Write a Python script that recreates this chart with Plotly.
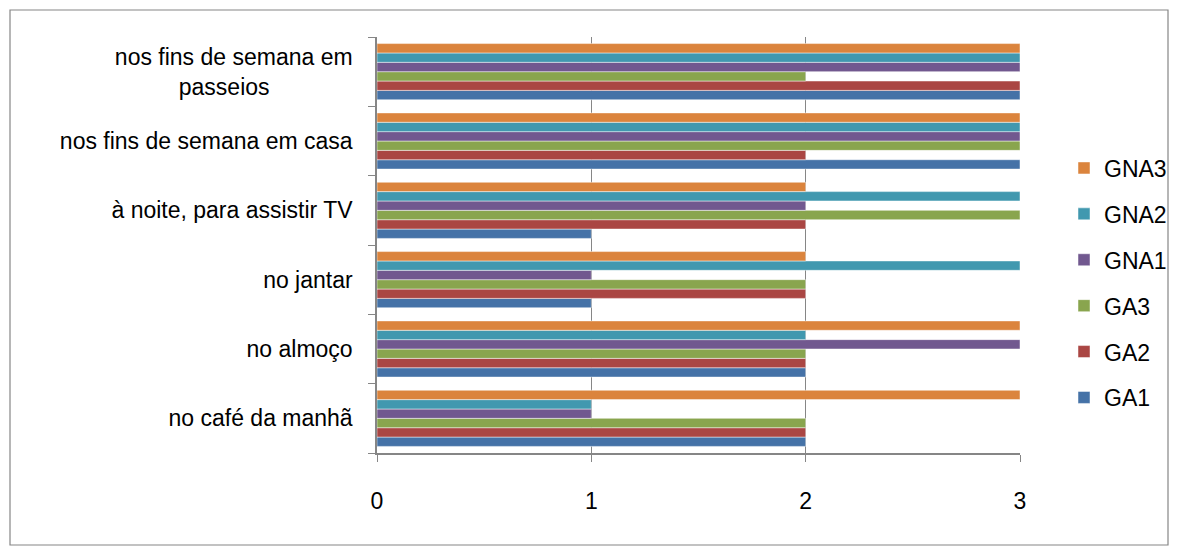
import plotly.graph_objects as go

categories = ["no café da manhã", "no almoço", "no jantar",
              "à noite, para assistir TV", "nos fins de semana em casa",
              "nos fins de semana em passeios"]
tick_labels = ["no café da manhã", "no almoço", "no jantar",
               "à noite, para assistir TV", "nos fins de semana em casa",
               "nos fins de semana em<br>passeios&nbsp;&nbsp;&nbsp;&nbsp;&nbsp;&nbsp;&nbsp;&nbsp;&nbsp;&nbsp;&nbsp;&nbsp;&nbsp;"]
series_names = ["GA1", "GA2", "GA3", "GNA1", "GNA2", "GNA3"]
GA1 = [2, 2, 1, 1, 3, 3]
GA2 = [2, 2, 2, 2, 2, 3]
GA3 = [2, 2, 2, 3, 3, 2]
GNA1 = [1, 3, 1, 2, 3, 3]
GNA2 = [1, 2, 3, 3, 3, 3]
GNA3 = [3, 3, 2, 2, 3, 3]
series_values = [GA1, GA2, GA3, GNA1, GNA2, GNA3]
colors = ["#4572A7", "#AA4643", "#89A54E", "#71588F", "#4198AF", "#DB843D"]
x_ticks = [0, 1, 2, 3]

font = dict(family="Liberation Sans, Arial, sans-serif", size=23, color="#000000")

fig = go.Figure()
for i, (name, vals, col) in enumerate(zip(series_names, series_values, colors)):
    fig.add_trace(go.Bar(
        y=categories, x=vals, name=name, orientation="h",
        marker=dict(color=col, line=dict(color="rgba(255,255,255,0.6)", width=0.8)),
        legendgroup=name, legendrank=1000 - i,
    ))

L, R, T, B = 377, 1020, 37, 453
W, H = 1179, 556
pw, ph = R - L, B - T

fig.update_layout(
    width=W, height=H,
    margin=dict(l=L, r=W - R, t=T, b=H - B, pad=0, autoexpand=False),
    barmode="group", bargap=0.19, bargroupgap=0,
    paper_bgcolor="white", plot_bgcolor="white",
    font=font,
    legend=dict(x=(1064 - L) / pw, xanchor="left", y=(B - 283) / ph, yanchor="middle",
                traceorder="grouped", tracegroupgap=13,
                font=font, itemwidth=30, bgcolor="rgba(0,0,0,0)"),
    xaxis=dict(range=[0, 3], tickvals=x_ticks, ticktext=[str(v) for v in x_ticks],
               showgrid=True, gridcolor="#868686", gridwidth=1,
               showline=True, linecolor="#868686", linewidth=1.5,
               ticks="outside", ticklen=7, tickcolor="#868686",
               ticklabelstandoff=20, zeroline=False, fixedrange=True, automargin=False),
    yaxis=dict(categoryorder="array", categoryarray=categories,
               tickvals=categories, ticktext=tick_labels,
               showgrid=False, showline=True, linecolor="#868686", linewidth=1.5,
               ticks="outside", ticklen=7, tickcolor="#868686", tickson="boundaries",
               ticklabelstandoff=18, fixedrange=True, automargin=False),
    shapes=[dict(type="rect", xref="paper", yref="paper",
                 x0=(10 - L) / pw, x1=(1168 - L) / pw,
                 y0=(B - 545) / ph, y1=(B - 10) / ph,
                 line=dict(color="#868686", width=1.2), fillcolor="rgba(0,0,0,0)", layer="below")],
)

fig.write_html("out.html", config={"displayModeBar": False},
               post_script="document.body.style.margin='0';")
